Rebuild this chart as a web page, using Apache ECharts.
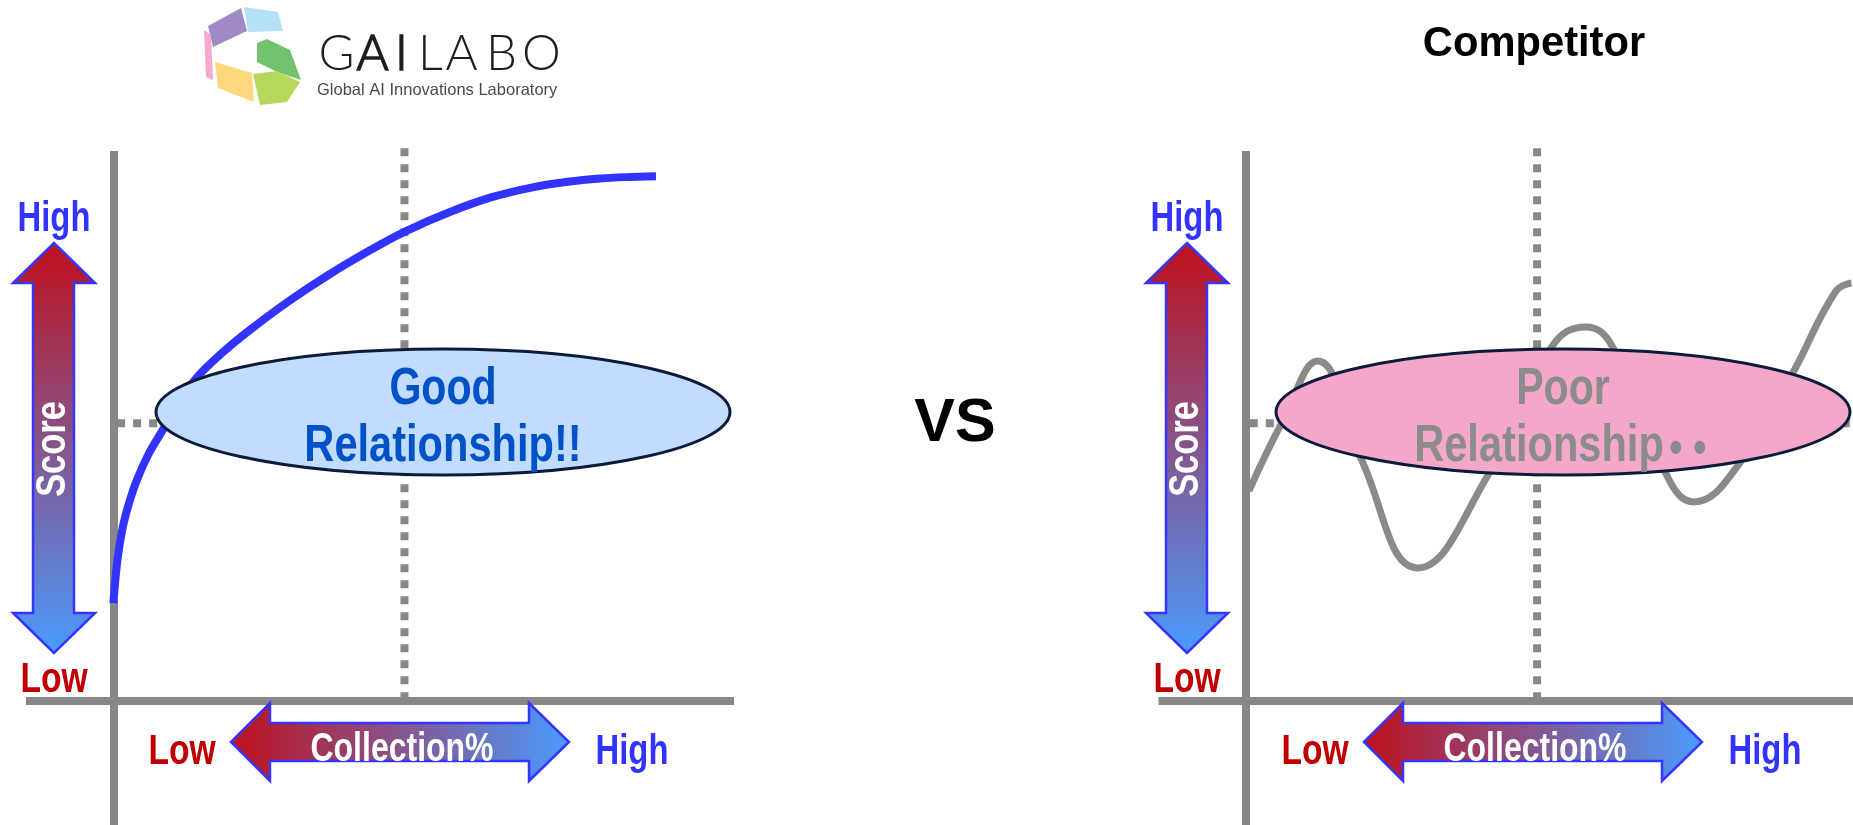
<!DOCTYPE html>
<html>
<head>
<meta charset="utf-8">
<script src="https://cdn.jsdelivr.net/npm/echarts@6/dist/echarts.min.js"></script>
<style>
html, body { margin: 0; padding: 0; background: #fff; }
#chart { width: 1853px; height: 825px; }
</style>
</head>
<body>
<div id="chart"></div>
<script>
// Score against collection rate: our steady curve (left) and the competitor's erratic one (right)
const goodCurve = [[0, 17.8], [0.7, 25.6], [1.6, 31.5], [2.7, 36.0], [4.05, 40.2], [6.1, 45.0],
  [8.5, 49.3], [11.3, 54.3], [14.4, 58.9], [18.8, 63.4], [23.5, 67.5], [30, 72.6], [37, 77.5],
  [44, 81.9], [50, 85.3], [57.8, 88.9], [65, 91.6], [72, 93.4], [78, 94.4], [83.6, 95.0],
  [88, 95.25], [93.2, 95.4]];
const competitorCurve = [[0.5, 38.2], [6.4, 51.1], [12.3, 61.8], [19.6, 44.4], [29.5, 24.2],
  [41.8, 41.5], [52.6, 64.5], [58.4, 68.0], [62.9, 64.5], [71.1, 43.5], [76.9, 36.2],
  [85.6, 44.4], [93.9, 59.6], [101.3, 74.5], [104.0, 76.0]];
const midCollection = 50;     // vertical reference line
const averageScore = 50.5;    // horizontal reference line
const refTop = 100.5;
const refBottom = 0.7;
const scoreLabels = ['High', 'Low', 'Score'];
const collectionLabels = ['Low', 'Collection%', 'High'];
const bubbleTexts = [['Good', 'Relationship!!'], ['Poor', 'Relationship', '・・']];
const competitorTitle = 'Competitor';

const chart = echarts.init(document.getElementById('chart'));

const GREY = '#878787';
const LABEL_FONT = '"Liberation Sans", Arial, Helvetica, sans-serif';

function axisCommon(gridIndex, min, max) {
  return {
    type: 'value', gridIndex: gridIndex, min: min, max: max,
    axisLine: { show: true, onZero: true, lineStyle: { color: GREY, width: 8, cap: 'butt' } },
    axisTick: { show: false }, axisLabel: { show: false }, splitLine: { show: false }
  };
}

function refLines(idx, xEnd) {
  return [
    {
      type: 'line', xAxisIndex: idx, yAxisIndex: idx, symbol: 'none', silent: true, z: 1,
      data: [[midCollection, refTop], [midCollection, refBottom]],
      lineStyle: { color: GREY, width: 8, type: [8, 8], cap: 'butt' }
    },
    {
      type: 'line', xAxisIndex: idx, yAxisIndex: idx, symbol: 'none', silent: true, z: 1,
      data: [[0.65, averageScore], [xEnd, averageScore]],
      lineStyle: { color: GREY, width: 8, type: [8, 8], cap: 'butt' }
    }
  ];
}

function txt(text, x, y, size, color, opts) {
  opts = opts || {};
  const font = (opts.weight || 'bold') + ' ' + size + 'px ' + (opts.family || LABEL_FONT);
  const style = {
    text: text, fill: color, font: font,
    align: opts.align || 'center', verticalAlign: 'middle',
    textAlign: opts.align || 'center', textVerticalAlign: 'middle'
  };
  if (opts.rich) style.rich = opts.rich;
  return {
    type: 'text', x: x, y: y, z: opts.z || 60,
    scaleX: opts.sx || 1, rotation: opts.rot || 0,
    style: style
  };
}

const arrowFillV = new echarts.graphic.LinearGradient(0, 0, 0, 1, [
  { offset: 0, color: '#c0101c' }, { offset: 1, color: '#4a9bff' }]);
const arrowFillH = new echarts.graphic.LinearGradient(0, 0, 1, 0, [
  { offset: 0, color: '#c0101c' }, { offset: 1, color: '#4a9bff' }]);

const vArrow = [[54, 243], [95, 283], [74, 283], [74, 613], [95, 613], [54, 653], [13, 613], [33, 613], [33, 283], [13, 283]];
const hArrow = [[231, 742], [270, 703], [270, 723], [529, 723], [529, 703], [569, 742], [529, 781], [529, 761], [270, 761], [270, 781]];

function panelDecor(dx) {
  const shift = pts => pts.map(p => [p[0] + dx, p[1]]);
  return [
    { type: 'polygon', z: 20, shape: { points: shift(vArrow) }, style: { fill: arrowFillV, stroke: '#3535ff', lineWidth: 2.5 } },
    { type: 'polygon', z: 20, shape: { points: shift(hArrow) }, style: { fill: arrowFillH, stroke: '#3535ff', lineWidth: 2.5 } },
    txt(scoreLabels[0], 54 + dx, 219, 42, '#3333ff', { sx: 0.78 }),
    txt(scoreLabels[1], 54 + dx, 680, 42, '#c00000', { sx: 0.8 }),
    txt(scoreLabels[2], 53 + dx, 449, 42, '#ffffff', { sx: 0.82, rot: Math.PI / 2 }),
    txt(collectionLabels[0], 182 + dx, 752, 42, '#c00000', { sx: 0.8 }),
    txt(collectionLabels[1], 402 + dx, 750, 40, '#ffffff', { sx: 0.8 }),
    txt(collectionLabels[2], 632 + dx, 752, 42, '#3333ff', { sx: 0.78 })
  ];
}

function bubble(cx, fill, lines, color) {
  const second = lines.length > 2
    ? txt('{r|' + lines[1] + '}{d|' + lines[2][0] + '}{d|' + lines[2][1] + '}', cx, 447, 52, color, {
        sx: 0.8, z: 55,
        rich: {
          r: { fill: color, font: 'bold 52px ' + LABEL_FONT },
          d: { fill: color, font: 'bold 52px "Noto Sans CJK JP", sans-serif', width: 30, align: 'center' }
        }
      })
    : txt(lines[1], cx, 447, 52, color, { sx: 0.8, z: 55 });
  return [
    { type: 'ellipse', z: 50, shape: { cx: cx, cy: 412, rx: 287, ry: 63 }, style: { fill: fill, stroke: '#0d1a3a', lineWidth: 3 } },
    txt(lines[0], cx, 390, 52, color, { sx: 0.79, z: 55 }),
    second
  ];
}

// GAILABO logo mark
const logoMark = [
  { pts: [[208, 26], [241, 8], [247, 31], [213, 47]], color: '#a08ac4' },
  { pts: [[244, 7], [278, 12], [283, 31], [248, 32]], color: '#b5e1f6' },
  { pts: [[204, 30], [211, 35], [213, 80], [206, 77]], color: '#f5a9cd' },
  { pts: [[257, 43], [267, 39], [290, 50], [301, 80], [277, 72], [257, 62]], color: '#72c26e' },
  { pts: [[215, 62], [252, 73], [254, 102], [218, 88]], color: '#ffd77c' },
  { pts: [[253, 74], [277, 71], [300, 82], [287, 102], [260, 105]], color: '#b7d75c' }
];
const logoLetters = [['G', 336.5, false], ['A', 372.5, true], ['I', 401.5, true], ['L', 430.5, false],
  ['A', 461.5, false], ['B', 501.5, false], ['O', 541.5, false]];

const graphics = [];
logoMark.forEach(m => graphics.push({ type: 'polygon', z: 10, shape: { points: m.pts }, style: { fill: m.color } }));
logoLetters.forEach(l => graphics.push(txt(l[0], l[1], 54, 49, '#1e1e1e',
  { weight: l[2] ? 'bold' : '300', family: '"Lato Light", Lato, "Open Sans", sans-serif' })));
graphics.push(txt('Global AI Innovations Laboratory', 317, 90, 16.5, '#4a4a4a',
  { weight: 'normal', align: 'left', family: LABEL_FONT }));

graphics.push(...panelDecor(0), ...panelDecor(1133));
graphics.push(...bubble(443, '#c2dcff', bubbleTexts[0], '#0052c6'));
graphics.push(...bubble(1563, '#f3a8ca', bubbleTexts[1], '#8c8c8c'));
graphics.push(txt('VS', 955, 424, 61, '#000000', { family: LABEL_FONT }));
graphics.push(txt(competitorTitle, 1534, 44, 43, '#000000', { family: LABEL_FONT, sx: 0.97 }));

chart.setOption({
  animation: false,
  backgroundColor: '#ffffff',
  grid: [
    { left: 26, top: 151, width: 708, height: 674 },
    { left: 1158.5, top: 151, width: 694.5, height: 674 }
  ],
  xAxis: [axisCommon(0, -15, 106.6), axisCommon(1, -15.03, 104.26)],
  yAxis: [axisCommon(0, -22.545, 100), axisCommon(1, -22.545, 100)],
  series: [
    ...refLines(0, 105),
    ...refLines(1, 106),
    {
      type: 'line', xAxisIndex: 0, yAxisIndex: 0, symbol: 'none', z: 5,
      smooth: 0.3, data: goodCurve,
      lineStyle: { color: '#3333ff', width: 8, cap: 'butt' }
    },
    {
      type: 'line', xAxisIndex: 1, yAxisIndex: 1, symbol: 'none', z: 5,
      smooth: 0.45, data: competitorCurve,
      lineStyle: { color: '#8a8a8a', width: 7 }
    }
  ],
  graphic: { elements: graphics }
});
</script>
</body>
</html>
